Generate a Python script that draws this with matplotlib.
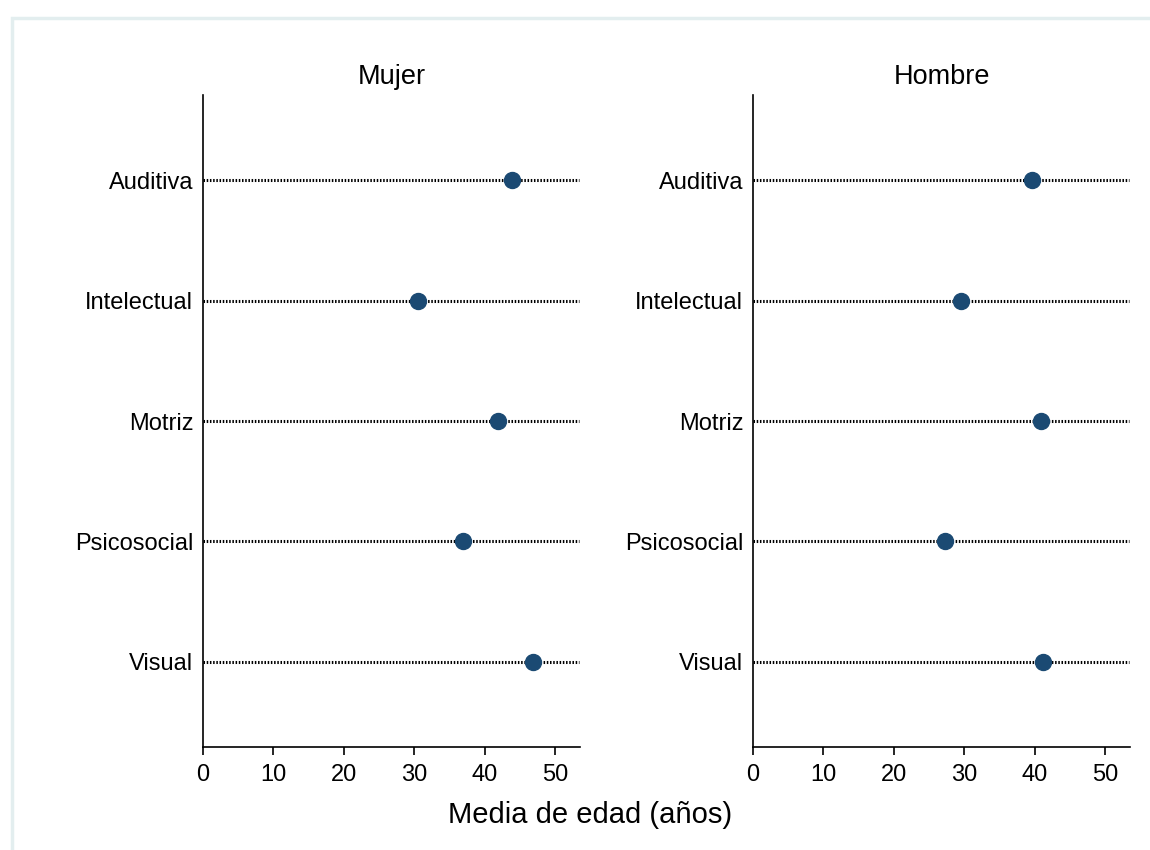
import matplotlib
matplotlib.use('Agg')
import matplotlib.pyplot as plt
from matplotlib.patches import Rectangle

plt.rcParams['font.family'] = ['Liberation Sans', 'DejaVu Sans']

categorias = ['Auditiva', 'Intelectual', 'Motriz', 'Psicosocial', 'Visual']
paneles = ['Mujer', 'Hombre']
edad_mujer = [43.9, 30.5, 41.8, 36.9, 46.9]
edad_hombre = [39.6, 29.5, 40.8, 27.3, 41.2]
xticks = [0, 10, 20, 30, 40, 50]

fig = plt.figure(figsize=(11.5, 8.5), dpi=100)
# marco claro alrededor de la figura
fig.patches.append(Rectangle((12 / 1150, -0.01), 1.02, 1 - 18 / 850 + 0.01,
                             transform=fig.transFigure, fill=False,
                             edgecolor='#e3eeef', lw=2.5))

lefts = [203 / 1150, 753 / 1150]
w = (580 - 203) / 1150
bottom = 1 - 747 / 850
h = (747 - 95) / 850

for k, (titulo, vals) in enumerate(zip(paneles, [edad_mujer, edad_hombre])):
    ax = fig.add_axes([lefts[k], bottom, w, h])
    ypos = list(range(1, len(categorias) + 1))
    for y in ypos:
        ax.plot([0, 53.3], [y, y], color='black', lw=2.2,
                linestyle=(0, (0.5, 0.55)), zorder=1)
    ax.plot(vals, ypos, 'o', color='#1b4a73', markersize=11.5, zorder=3)
    ax.set_xlim(0, 53.5)
    ax.set_ylim(5.71, 0.29)
    ax.set_yticks(ypos)
    ax.set_yticklabels(categorias, fontsize=17)
    ax.set_xticks(xticks)
    ax.set_xticklabels([str(t) for t in xticks], fontsize=17)
    ax.tick_params(axis='y', length=0, pad=7)
    ax.tick_params(axis='x', length=6, width=1.2, pad=6)
    ax.spines['top'].set_visible(False)
    ax.spines['right'].set_visible(False)
    ax.spines['left'].set_linewidth(1.2)
    ax.spines['bottom'].set_linewidth(1.2)
    ax.set_title(titulo, fontsize=19.5, pad=8)

fig.text(590 / 1150, 1 - 815 / 850, 'Media de edad (años)',
         ha='center', va='center', fontsize=21)

fig.savefig('out.png', dpi=100)
